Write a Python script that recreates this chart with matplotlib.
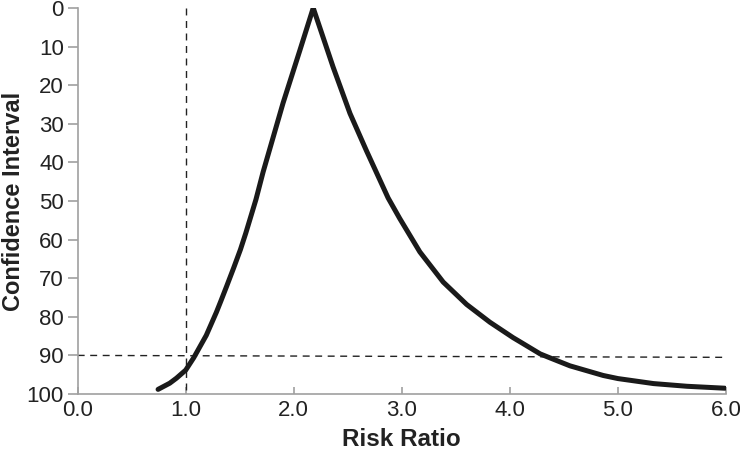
import matplotlib
matplotlib.use("Agg")
import matplotlib.pyplot as plt

# Curve points (Risk Ratio, Confidence Interval %)
risk_ratio = [0.744, 0.852, 0.914, 1.000, 1.074, 1.190, 1.284, 1.324, 1.377,
              1.444, 1.506, 1.556, 1.650, 1.716, 1.901, 2.056, 2.180, 2.364,
              2.520, 2.673, 2.873, 2.980, 3.167, 3.383, 3.600, 3.815, 4.030,
              4.090, 4.280, 4.350, 4.556, 4.864, 5.000, 5.330, 5.640, 5.990]
conf_int = [98.8, 97.2, 95.9, 93.8, 90.6, 84.8, 78.8, 76.0, 72.2,
            67.3, 62.6, 58.3, 49.6, 42.5, 24.6, 11.0, 0.0, 15.3,
            27.3, 37.0, 49.2, 54.5, 63.2, 71.0, 76.8, 81.4, 85.4,
            86.4, 89.6, 90.4, 92.7, 95.2, 96.0, 97.3, 98.0, 98.5]

ref_v_x = [1.0, 1.0]
ref_v_y = [0, 100]
ref_h_x = [0.0, 6.0]
ref_h_y = [90.0, 90.5]

xticks = [0, 1, 2, 3, 4, 5, 6]
xticklabels = ["0.0", "1.0", "2.0", "3.0", "4.0", "5.0", "6.0"]
yticks = [0, 10, 20, 30, 40, 50, 60, 70, 80, 90, 100]

plt.rcParams['font.family'] = ['Liberation Sans', 'DejaVu Sans']

fig = plt.figure(figsize=(7.4, 4.59), dpi=100)
ax = fig.add_axes([0.105, 0.1416, 0.876, 0.841])

ax.plot(ref_v_x, ref_v_y, color='#222222', lw=1.0, ls=(0, (5, 4)))
ax.plot(ref_h_x, ref_h_y, color='#222222', lw=1.0, ls=(0, (5, 4)))
ax.plot(risk_ratio, conf_int, color='#1a1a1a', lw=3.6, solid_capstyle='round',
        solid_joinstyle='round')

ax.set_xlim(0, 6)
ax.set_ylim(100, 0)
ax.set_xticks(xticks)
ax.set_xticklabels(xticklabels)
ax.set_yticks(yticks)

for s in ['top', 'right']:
    ax.spines[s].set_visible(False)
for s in ['left', 'bottom']:
    ax.spines[s].set_color('#a0a0a0')
    ax.spines[s].set_linewidth(1.2)

ax.tick_params(axis='x', direction='in', length=5, width=1.2, color='#a0a0a0',
               labelsize=16, labelcolor='#222222', pad=4)
ax.tick_params(axis='y', direction='out', length=7, width=1.2, color='#a0a0a0',
               labelsize=16, labelcolor='#222222', pad=3)

ax.set_xlabel('Risk Ratio', fontsize=17.5, fontweight='bold', color='#222222', labelpad=5)
ax.set_ylabel('Confidence Interval', fontsize=17, fontweight='bold', color='#222222')
ax.yaxis.set_label_coords(-0.082, 0.5)

fig.savefig('out.png', dpi=100)
